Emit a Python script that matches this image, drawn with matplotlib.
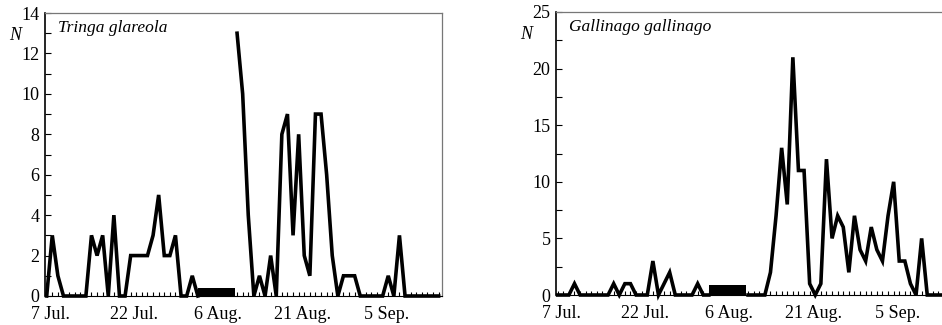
import numpy as np
import matplotlib
matplotlib.use("Agg")
import matplotlib.pyplot as plt
from matplotlib.ticker import MultipleLocator, FixedLocator
from matplotlib.transforms import ScaledTranslation

plt.rcParams['font.family'] = 'Liberation Serif'

# day 0 = 7 Jul.
date_ticks = [0, 15, 30, 45, 60]
date_labels = ["7 Jul.", "22 Jul.", "6 Aug.", "21 Aug.", "5 Sep."]

# no observations in this period (black bar)
gap_start = 27.1
gap_end = 33.7

nan = np.nan
tringa = [0, 3, 1, 0, 0, 0, 0, 0, 3, 2, 3, 0, 4, 0, 0,
          2, 2, 2, 2, 3, 5, 2, 2, 3, 0, 0, 1, 0,
          nan, nan, nan, nan, nan, nan,
          13, 10, 4, 0, 1, 0, 2, 0, 8, 9, 3, 8, 2, 1, 9, 9, 6, 2,
          0, 1, 1, 1, 0, 0, 0, 0, 0, 1, 0, 3, 0, 0, 0, 0, 0, 0, 0]

gallinago = [0, 0, 0, 1, 0, 0, 0, 0, 0, 0, 1, 0, 1, 1, 0, 0, 0, 3, 0, 1,
             2, 0, 0, 0, 0, 1, 0, 0,
             nan, nan, nan, nan, nan, nan,
             0, 0, 0, 0, 2, 7, 13, 8, 21, 11, 11, 1, 0, 1,
             12, 5, 7, 6, 2, 7, 4, 3, 6, 4, 3, 7, 10, 3, 3, 1, 0, 5, 0, 0, 0, 0]

panels = [
    ("Tringa glareola", tringa, 14, 2, 1, 0.42, [45/942, 29/325]),
    ("Gallinago gallinago", gallinago, 25, 5, 2.5, 0.85, [556/942, 30/325]),
]

fig = plt.figure(figsize=(9.42, 3.25), dpi=100)
shift = ScaledTranslation(0.035, 0, fig.dpi_scale_trans)

for name, counts, ymax, ymaj, ymin, barh, pos in panels:
    ax = fig.add_axes([pos[0], pos[1], 397/942, 283/325])
    days = np.arange(len(counts))
    ax.plot(days, counts, color='black', lw=2.6, solid_joinstyle='miter', clip_on=False, zorder=3)
    ax.fill_between([gap_start, gap_end], 0, barh, color='black', lw=0, zorder=4)

    ax.set_xlim(-0.3, 70.6)
    ax.set_ylim(0, ymax)
    ax.xaxis.set_major_locator(FixedLocator(date_ticks))
    ax.set_xticklabels(date_labels)
    ax.xaxis.set_minor_locator(MultipleLocator(1))
    ax.yaxis.set_major_locator(MultipleLocator(ymaj))
    ax.yaxis.set_minor_locator(MultipleLocator(ymin))
    ax.tick_params(which='both', direction='in', labelsize=13, width=0.8)
    ax.tick_params(axis='x', which='both', length=3, pad=7)
    ax.tick_params(axis='y', which='major', length=4, pad=4)
    ax.tick_params(axis='y', which='minor', length=4)
    for lab in ax.get_xticklabels():
        lab.set_transform(lab.get_transform() + shift)

    ax.spines['left'].set_linewidth(1.2)
    ax.spines['bottom'].set_linewidth(0.8)
    for s in ['top', 'right']:
        ax.spines[s].set_color('#777777')
        ax.spines[s].set_linewidth(0.9)

    ax.text(0.033, 0.975, name, transform=ax.transAxes, fontsize=12.5,
            style='italic', ha='left', va='top')
    ax.text(-0.076, 0.92, "N", transform=ax.transAxes, fontsize=13,
            style='italic', ha='center', va='center')

fig.savefig("out.png", dpi=100)
